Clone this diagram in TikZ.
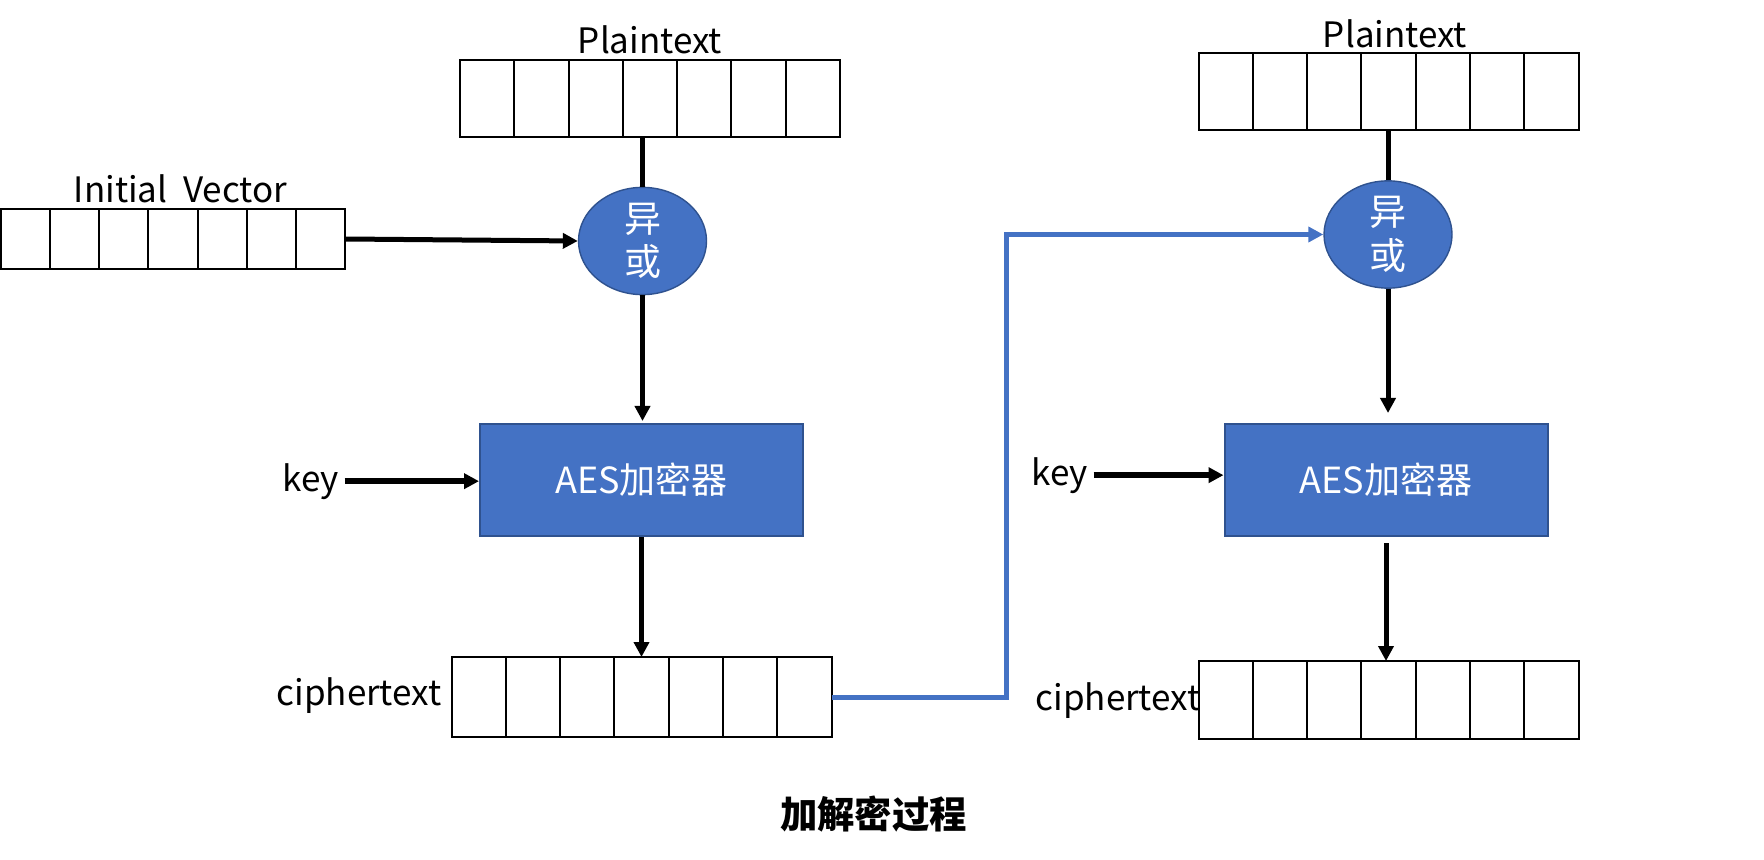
\documentclass[tikz,border=0pt]{standalone}
\usepackage{fontspec}
\setmainfont{Noto Sans CJK SC}
\usetikzlibrary{arrows.meta,calc,shapes.geometric}
\definecolor{officeblue}{HTML}{4472C4}
\definecolor{edgeblue}{HTML}{2F528F}
\tikzset{>={Triangle[length=7.5pt,width=7.5pt]}}

\begin{document}
\begin{tikzpicture}[x=0.5pt,y=-0.5pt,
  every node/.style={font=\fontsize{18}{21.75}\selectfont,inner sep=0pt},
  lbl/.style={anchor=base,font=\fontsize{17.5}{21}\selectfont},
  reg/.style={draw,line width=1pt,outer sep=0pt,minimum width=190pt,minimum height=38.5pt},
  xorop/.style={ellipse,draw=edgeblue,fill=officeblue,line width=0.7pt,minimum width=64pt,minimum height=51.5pt,text=white,align=center,font=\fontsize{18.5}{21.75}\selectfont},
  aesbox/.style={rectangle,draw=edgeblue,fill=officeblue,line width=1pt,minimum width=161.5pt,minimum height=56pt,text=white},
  flow/.style={line width=2.5pt}]
\useasboundingbox (0,0) rectangle (1764,860);
% left: encryption
\node[reg] (ptL) at (650,98.5) {};
\node[lbl] (ptLtext) at (650,54) {Plaintext};
\node[reg,minimum width=172pt,minimum height=30pt] (iv) at (173,239) {};
\node[lbl] (ivtext) at (180.5,203) {Initial\ \ Vector};
\node[xorop] (xorL) at (642.5,241) {异\\或};
\node[aesbox] (aesL) at (641.5,480) {AES加密器};
\node[lbl] (keyL) at (311,491) {key};
\node[reg,minimum height=40pt] (ctL) at (641.5,697) {};
\node[lbl] (ctLtext) at (359,705) {ciphertext};
% right: decryption
\node[reg] (ptR) at (1388.5,91.5) {};
\node[lbl] (ptRtext) at (1395,48) {Plaintext};
\node[xorop] (xorR) at (1388,234.5) {异\\或};
\node[aesbox] (aesR) at (1386,480) {AES加密器};
\node[lbl] (keyR) at (1060,485) {key};
\node[reg,minimum height=39pt] (ctR) at (1388.5,700) {};
\node[lbl] (ctRtext) at (1118,710) {ciphertext};
\node[font=\fontsize{18.7}{22}\selectfont\bfseries] (title) at (873.5,814) {加解密过程};
% cells
\foreach \r in {ptL,iv,ctL,ptR,ctR}
  \foreach \i in {1,...,6}
    \draw[line width=1pt] ($(\r.north west)!\i/7!(\r.north east)$) -- ($(\r.south west)!\i/7!(\r.south east)$);
% connectors
\draw[flow] (xorL.north) -- (xorL.north |- ptL.south);
\draw[flow,->] (iv.east) -- (xorL.west);
\draw[flow,->,shorten >=1pt] (xorL.south) -- (xorL.south |- aesL.north);
\draw[flow,line width=3pt,->,shorten <=2.5pt] (keyL.east) -- (keyL.east -| aesL.west);
\draw[flow,->] (aesL.south) -- (ctL.north);
\draw[flow] (xorR.north) -- (xorR.north |- ptR.south);
\draw[flow,->,shorten >=5pt] (xorR.south) -- (xorR.south |- aesR.north);
\draw[flow,line width=3pt,->,shorten <=2.5pt] (keyR.east) -- (keyR.east -| aesR.west);
\draw[flow,->,shorten <=3pt] (aesR.south) -- (aesR.south |- ctR.north);
\coordinate (bend) at (1006,0);
\draw[line width=2.5pt,officeblue,->] (ctL.east) -| (bend |- xorR.west) -- (xorR.west);
\end{tikzpicture}
\end{document}
